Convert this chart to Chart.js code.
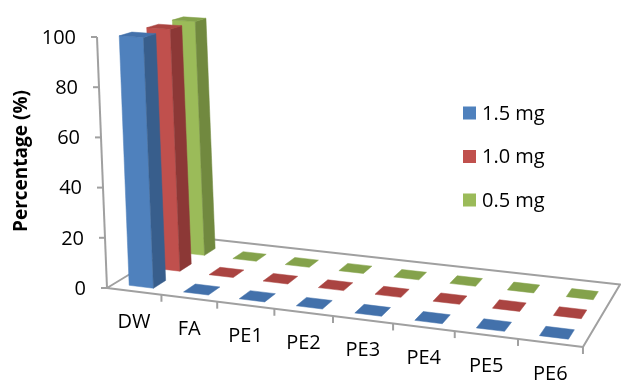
<!DOCTYPE html>
<html lang="en">
<head>
<meta charset="UTF-8" />
<title>Percentage</title>
<script src="https://cdn.jsdelivr.net/npm/chart.js"></script>
<style>
  html, body { margin: 0; padding: 0; background: #fff; }
  .box { width: 622px; height: 383px; }
</style>
</head>
<body>
<div class="box"><canvas id="grafico"></canvas></div>
<script>
// data
const categorias = ['DW', 'FA', 'PE1', 'PE2', 'PE3', 'PE4', 'PE5', 'PE6'];
const serie15 = [100, 0, 0, 0, 0, 0, 0, 0];
const serie10 = [100, 0, 0, 0, 0, 0, 0, 0];
const serie05 = [100, 0, 0, 0, 0, 0, 0, 0];
const ticksY = [0, 20, 40, 60, 80, 100];

// colors: front / side / top for each series
const cores = [
  { frente: '#4F81BD', lado: '#385E8C', topo: '#4371AB' },
  { frente: '#C0504D', lado: '#8C3836', topo: '#AA4441' },
  { frente: '#9BBB59', lado: '#71893F', topo: '#84A24B' }
];

// simple perspective view of the (u, v, z) box: u = category units, v = 0..1 of value axis, z = 0..1 depth
const cam = { x0: 107, y0: 288, ux: 52.5, uy: 3.21, vx: -10, vy: -251, zx: 106.5, zy: -23.1, a: -0.012, c: 0.1177 };
function proj(u, v, z) {
  const d = 1 + cam.a * u + cam.c * z;
  return [(cam.x0 + cam.ux * u + cam.vx * v + cam.zx * z) / d,
          (cam.y0 + cam.uy * u + cam.vy * v + cam.zy * z) / d];
}

const rowZ = [0.08, 0.39, 0.70];   // front of each series row
const barDepth = 0.14;
const fonte = "'Open Sans', sans-serif";

function poligono(ctx, pts, fill, stroke) {
  ctx.beginPath();
  pts.forEach((p, i) => i ? ctx.lineTo(p[0], p[1]) : ctx.moveTo(p[0], p[1]));
  ctx.closePath();
  if (fill) { ctx.fillStyle = fill; ctx.fill(); }
  if (stroke) { ctx.strokeStyle = stroke; ctx.stroke(); }
}

const barras3d = {
  id: 'barras3d',
  beforeDatasetsDraw() { return false; },
  afterDraw(chart) {
    const ctx = chart.ctx;
    const ca = chart.chartArea;
    const xs = chart.scales.x, ys = chart.scales.y;
    const n = categorias.length;
    const toU = px => (px - ca.left) / ca.width * n;
    const toV = py => (ca.bottom - py) / ca.height;
    const cinza = '#A0A0A0';

    ctx.save();
    ctx.lineWidth = 2;
    ctx.lineJoin = 'round';

    // floor
    poligono(ctx, [proj(0, 0, 0), proj(n, 0, 0), proj(n, 0, 1), proj(0, 0, 1)], '#fff', cinza);

    // category ticks on the front edge
    for (let i = 1; i <= n; i++) {
      const p = proj(i, 0, 0);
      ctx.beginPath();
      ctx.moveTo(p[0], p[1]);
      ctx.lineTo(p[0], p[1] + 7);
      ctx.strokeStyle = cinza;
      ctx.stroke();
    }

    // value axis
    const topoEixo = proj(0, 1, 0), baseEixo = proj(0, 0, 0);
    ctx.beginPath();
    ctx.moveTo(baseEixo[0], baseEixo[1]);
    ctx.lineTo(topoEixo[0], topoEixo[1]);
    ctx.stroke();
    ctx.font = '20px ' + fonte;
    ctx.fillStyle = '#000';
    ctx.textAlign = 'right';
    ctx.textBaseline = 'middle';
    ys.ticks.forEach(t => {
      const p = proj(0, toV(ys.getPixelForValue(t.value)), 0);
      ctx.beginPath();
      ctx.moveTo(p[0], p[1]);
      ctx.lineTo(p[0] - 6, p[1]);
      ctx.strokeStyle = cinza;
      ctx.stroke();
      ctx.fillText(String(t.value), p[0] - 21, p[1] + 1);
    });

    // category labels
    ctx.textAlign = 'center';
    categorias.forEach((c, i) => {
      const p = proj(toU(xs.getPixelForValue(i)), 0, 0);
      ctx.fillText(c, p[0], p[1] + 31);
    });

    // bars, back row first
    ctx.lineWidth = 0.5;
    for (let k = chart.data.datasets.length - 1; k >= 0; k--) {
      const meta = chart.getDatasetMeta(k);
      const cor = cores[k];
      const z0 = rowZ[k], z1 = rowZ[k] + barDepth;
      for (let i = meta.data.length - 1; i >= 0; i--) {
        const el = meta.data[i];
        const u0 = toU(el.x - el.width / 2), u1 = toU(el.x + el.width / 2);
        const v1 = toV(el.y);
        if (v1 > 0.001) {
          poligono(ctx, [proj(u0, 0, z0), proj(u1, 0, z0), proj(u1, v1, z0), proj(u0, v1, z0)], cor.frente, cor.frente);
          poligono(ctx, [proj(u1, 0, z0), proj(u1, 0, z1), proj(u1, v1, z1), proj(u1, v1, z0)], cor.lado, cor.lado);
        }
        poligono(ctx, [proj(u0, v1, z0), proj(u1, v1, z0), proj(u1, v1, z1), proj(u0, v1, z1)], cor.topo, cor.topo);
      }
    }

    // value axis title
    ctx.save();
    ctx.translate(22, 161);
    ctx.rotate(-Math.PI / 2);
    ctx.font = 'bold 19px ' + fonte;
    ctx.fillStyle = '#000';
    ctx.textAlign = 'center';
    ctx.textBaseline = 'middle';
    ctx.fillText('Percentage (%)', 0, 0);
    ctx.restore();

    // legend
    ctx.font = '20px ' + fonte;
    ctx.textAlign = 'left';
    ctx.textBaseline = 'middle';
    chart.data.datasets.forEach((ds, k) => {
      const y = 113 + k * 43.5;
      ctx.fillStyle = ds.backgroundColor;
      ctx.fillRect(463, y - 6.5, 13, 13);
      ctx.fillStyle = '#000';
      ctx.fillText(ds.label, 482, y + 1);
    });
    ctx.restore();
  }
};

const grafico = new Chart(document.getElementById('grafico'), {
  type: 'bar',
  data: {
    labels: categorias,
    datasets: [
      { label: '1.5 mg', data: serie15, backgroundColor: cores[0].frente, grouped: false, barPercentage: 0.45, categoryPercentage: 1 },
      { label: '1.0 mg', data: serie10, backgroundColor: cores[1].frente, grouped: false, barPercentage: 0.45, categoryPercentage: 1 },
      { label: '0.5 mg', data: serie05, backgroundColor: cores[2].frente, grouped: false, barPercentage: 0.45, categoryPercentage: 1 }
    ]
  },
  options: {
    responsive: true,
    maintainAspectRatio: false,
    animation: false,
    layout: { padding: { left: 107, right: 39, top: 37, bottom: 95 } },
    plugins: { legend: { display: false }, tooltip: { enabled: false } },
    scales: {
      x: { display: false },
      y: {
        display: false,
        min: 0,
        max: 100,
        afterBuildTicks: s => { s.ticks = ticksY.map(v => ({ value: v })); }
      }
    }
  },
  plugins: [barras3d]
});
</script>
</body>
</html>
